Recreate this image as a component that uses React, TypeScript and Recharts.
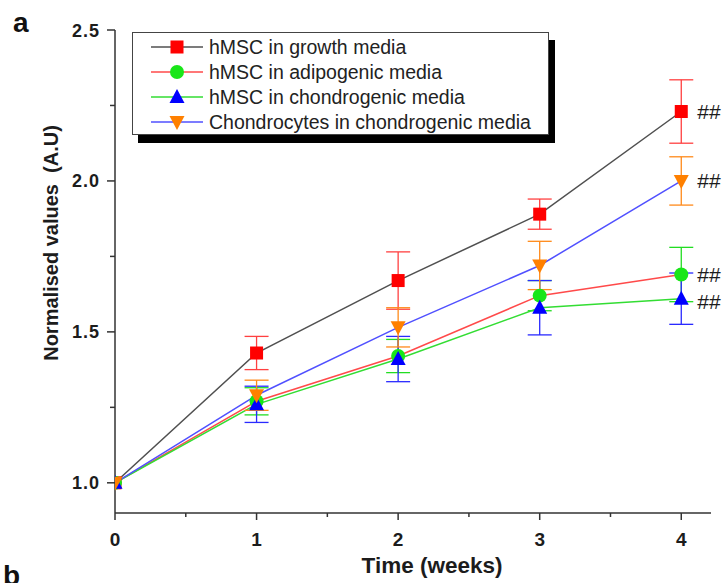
import React from "react";
import { LineChart, Line, XAxis, YAxis, ErrorBar, Legend } from "recharts";

// time points (weeks)
const weeks = [0, 1, 2, 3, 4];

// normalised values, with +/- error
const growth = [1.0, 1.43, 1.67, 1.89, 2.23];
const growthErr = [0, 0.055, 0.095, 0.05, 0.105];
const adipogenic = [1.0, 1.27, 1.42, 1.62, 1.69];
const adipogenicErr = [0, 0.045, 0.055, 0.05, 0.09];
const chondrogenic = [1.0, 1.26, 1.41, 1.58, 1.61];
const chondrogenicErr = [0, 0.06, 0.075, 0.09, 0.085];
const chondrocytes = [1.0, 1.29, 1.515, 1.72, 2.0];
const chondrocytesErr = [0, 0.05, 0.065, 0.08, 0.08];

const xTicks = [0, 0.5, 1, 1.5, 2, 2.5, 3, 3.5, 4];
const yTicks = [1.0, 1.25, 1.5, 1.75, 2.0, 2.25, 2.5];

const rows = weeks.map((w, i) => ({
  week: w,
  growth: growth[i],
  growthErr: growthErr[i],
  adipogenic: adipogenic[i],
  adipogenicErr: adipogenicErr[i],
  chondrogenic: chondrogenic[i],
  chondrogenicErr: chondrogenicErr[i],
  chondrocytes: chondrocytes[i],
  chondrocytesErr: chondrocytesErr[i],
}));

type Shape = "square" | "circle" | "up" | "down";

const series: {
  key: string;
  name: string;
  line: string;
  marker: string;
  shape: Shape;
  hashDy: number;
}[] = [
  { key: "growth", name: "hMSC in growth media", line: "#505050", marker: "#ff0000", shape: "square", hashDy: 0 },
  { key: "adipogenic", name: "hMSC in adipogenic media", line: "#ff4a4a", marker: "#19e619", shape: "circle", hashDy: 0 },
  { key: "chondrogenic", name: "hMSC in chondrogenic media", line: "#33dd33", marker: "#0000ff", shape: "up", hashDy: 3 },
  { key: "chondrocytes", name: "Chondrocytes in chondrogenic media", line: "#5050ff", marker: "#ff8000", shape: "down", hashDy: 0 },
];

const errColor: Record<string, string> = {
  growth: "#ff4040",
  adipogenic: "#22dd22",
  chondrogenic: "#2a2aff",
  chondrocytes: "#ff8a1a",
};

const FONT = '"Liberation Sans", Arial, sans-serif';
const INK = "#1c1c1c";
const AXIS = "#333";

function Marker({ shape, cx, cy, fill }: { shape: Shape; cx: number; cy: number; fill: string }) {
  if (shape === "square") return <rect x={cx - 6.5} y={cy - 6.5} width={13} height={13} fill={fill} />;
  if (shape === "circle") return <circle cx={cx} cy={cy} r={7} fill={fill} />;
  if (shape === "up")
    return <polygon points={`${cx},${cy - 8} ${cx + 7.5},${cy + 6} ${cx - 7.5},${cy + 6}`} fill={fill} />;
  return <polygon points={`${cx - 7.5},${cy - 6} ${cx + 7.5},${cy - 6} ${cx},${cy + 8}`} fill={fill} />;
}

const XTick = (props: any) => {
  const { x, y, payload } = props;
  const major = Number.isInteger(payload.value);
  return (
    <g>
      <line x1={x} x2={x} y1={y} y2={y + (major ? 7 : 4)} stroke={AXIS} strokeWidth={1.5} />
      {major && (
        <text x={x} y={y + 33} textAnchor="middle" fontSize={19} fontWeight="bold" fill={INK} fontFamily={FONT}>
          {payload.value}
        </text>
      )}
    </g>
  );
};

const YTick = (props: any) => {
  const { x, y, payload } = props;
  const major = Math.abs(payload.value * 2 - Math.round(payload.value * 2)) < 1e-6;
  return (
    <g>
      <line x1={x} x2={x - (major ? 8 : 5)} y1={y} y2={y} stroke={AXIS} strokeWidth={1.5} />
      {major && (
        <text
          x={x - 15}
          y={y + 6.5}
          textAnchor="end"
          fontSize={18}
          fontWeight="bold"
          letterSpacing={1}
          fill={INK}
          fontFamily={FONT}
        >
          {payload.value.toFixed(1)}
        </text>
      )}
    </g>
  );
};

const LegendBox = () => (
  <div
    style={{
      width: 417,
      height: 103,
      border: "1px solid #444",
      background: "#fff",
      boxShadow: "6px 8px 0 #000",
      boxSizing: "border-box",
    }}
  >
    <svg width={415} height={101}>
      {series.map((s, i) => {
        const cy = 14 + 25 * i;
        return (
          <g key={s.key}>
            <line x1={18} x2={70} y1={cy} y2={cy} stroke={s.line} strokeWidth={1.5} />
            <Marker shape={s.shape} cx={44} cy={cy} fill={s.marker} />
            <text x={76} y={cy + 7} fontSize={19.5} fill="#222" fontFamily={FONT}>
              {s.name}
            </text>
          </g>
        );
      })}
    </svg>
  </div>
);

const hashLabel = (dy: number) => (props: any) => {
  const { x, y, index } = props;
  if (index !== weeks.length - 1) return null;
  return (
    <text key={`hash-${index}`} x={x + 16} y={y + 7 + dy} fontSize={21} fill={INK} fontFamily={FONT}>
      ##
    </text>
  );
};

export default function App() {
  return (
    <div
      style={{
        position: "absolute",
        left: 0,
        top: 0,
        width: 725,
        height: 583,
        background: "#fff",
        overflow: "hidden",
        fontFamily: FONT,
      }}
    >
      <LineChart width={725} height={583} data={rows} margin={{ top: 30, right: 14, left: 0, bottom: 0 }}>
        <XAxis
          dataKey="week"
          type="number"
          domain={[0, 4.21]}
          allowDataOverflow
          ticks={xTicks}
          interval={0}
          tickSize={0}
          tickMargin={0}
          tickLine={false}
          tick={<XTick />}
          height={70}
          axisLine={{ stroke: AXIS, strokeWidth: 1.5 }}
          label={{
            content: () => (
              <text x={432} y={573} textAnchor="middle" fontSize={22.5} fontWeight="bold" fill={INK} fontFamily={FONT}>
                Time (weeks)
              </text>
            ),
          }}
        />
        <YAxis
          type="number"
          domain={[0.9, 2.5]}
          allowDataOverflow
          ticks={yTicks}
          interval={0}
          width={115}
          tickSize={0}
          tickMargin={0}
          tickLine={false}
          tick={<YTick />}
          axisLine={{ stroke: AXIS, strokeWidth: 1.5 }}
          label={{
            content: () => (
              <text
                x={58}
                y={243}
                transform="rotate(-90 58 243)"
                textAnchor="middle"
                fontSize={20}
                fontWeight="bold"
                fill={INK}
                fontFamily={FONT}
                style={{ whiteSpace: "pre" }}
              >
                {"Normalised values  (A.U)"}
              </text>
            ),
          }}
        />
        <Legend
          layout="horizontal"
          verticalAlign="middle"
          align="center"
          content={<LegendBox />}
          wrapperStyle={{ left: 132, top: 32, width: 417, height: 103 }}
        />
        {series.map((s) => (
          <Line
            key={s.key}
            type="linear"
            dataKey={s.key}
            name={s.name}
            stroke={s.line}
            strokeWidth={1.5}
            isAnimationActive={false}
            activeDot={false}
            dot={(p: any) => <Marker key={`${s.key}-${p.index}`} shape={s.shape} cx={p.cx} cy={p.cy} fill={s.marker} />}
            label={hashLabel(s.hashDy)}
          >
            <ErrorBar dataKey={`${s.key}Err`} width={12} stroke={errColor[s.key]} strokeWidth={1.3} direction="y" />
          </Line>
        ))}
      </LineChart>
      <div style={{ position: "absolute", left: 13, top: 7, fontSize: 28, fontWeight: "bold", color: "#111" }}>a</div>
      <div style={{ position: "absolute", left: 3, top: 560, fontSize: 28, fontWeight: "bold", color: "#111" }}>b</div>
    </div>
  );
}
